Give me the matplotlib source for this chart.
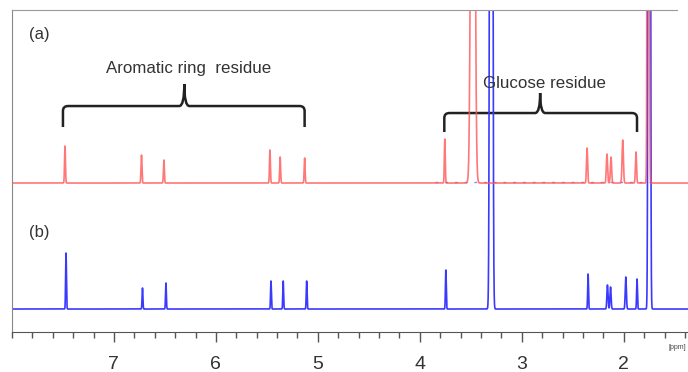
"""Spettro 1H-NMR: confronto tra (a) e (b) con residui evidenziati."""

import numpy as np
import matplotlib.pyplot as plt
from matplotlib.path import Path
from matplotlib.patches import PathPatch
from matplotlib.ticker import FixedLocator, MultipleLocator

plt.rcParams["font.family"] = ["Liberation Sans", "DejaVu Sans"]

# picchi spettro (a): posizione [ppm], altezza, sigma [ppm]
RED_SHIFTS = [7.48, 6.73, 6.51, 5.47, 5.37, 5.13, 3.755, 3.48,
              2.36, 2.165, 2.125, 2.01, 1.88, 1.76]
RED_HEIGHTS = [37, 28, 23, 33, 26, 25, 44, 1000,
               35, 29, 26, 43, 31, 3000]
RED_WIDTHS = [0.0045, 0.0045, 0.0045, 0.0045, 0.0045, 0.0045, 0.0045, 0.015,
              0.0055, 0.006, 0.006, 0.0065, 0.0055, 0.006]

# picchi spettro (b)
BLUE_SHIFTS = [7.47, 6.72, 6.49, 5.46, 5.34, 5.11, 3.745, 3.30,
               2.35, 2.16, 2.13, 1.98, 1.87, 1.75]
BLUE_HEIGHTS = [56, 21, 26, 28, 28, 28, 39, 3000,
                35, 24, 22, 32, 30, 3000]
BLUE_WIDTHS = [0.004, 0.004, 0.004, 0.004, 0.004, 0.004, 0.004, 0.009,
               0.004, 0.0055, 0.0055, 0.0055, 0.004, 0.007]

RED_OFFSET = 149
BLUE_OFFSET = 23

# parentesi: estremo sinistro, centro, estremo destro [ppm]
BRACKETS = [(7.50, 6.31, 5.13), (3.76, 2.82, 1.87)]
BRACKET_LABELS = ["Aromatic ring  residue", "Glucose residue"]

TICK_VALUES = [7, 6, 5, 4, 3, 2]


def spectrum(ppm, shifts, heights, widths):
    y = np.zeros_like(ppm)
    for x0, h, s in zip(shifts, heights, widths):
        y += h * np.exp(-0.5 * ((ppm - x0) / s) ** 2)
    return y


def bracket_path(xl, xc, xr, y_end, y_h, y_tip, dx=0.05, dy=5):
    verts = [
        (xl, y_end), (xl, y_h - dy),
        (xl, y_h), (xl - dx, y_h),
        (xc + dx, y_h),
        (xc, y_h), (xc, y_tip),
        (xc, y_h), (xc - dx, y_h),
        (xr + dx, y_h),
        (xr, y_h), (xr, y_h - dy),
        (xr, y_end),
    ]
    codes = [Path.MOVETO, Path.LINETO,
             Path.CURVE3, Path.CURVE3,
             Path.LINETO,
             Path.CURVE3, Path.CURVE3,
             Path.CURVE3, Path.CURVE3,
             Path.LINETO,
             Path.CURVE3, Path.CURVE3,
             Path.LINETO]
    return Path(verts, codes)


ppm = np.linspace(8.0, 1.37, 14000)
red = RED_OFFSET + spectrum(ppm, RED_SHIFTS, RED_HEIGHTS, RED_WIDTHS)
blue = BLUE_OFFSET + spectrum(ppm, BLUE_SHIFTS, BLUE_HEIGHTS, BLUE_WIDTHS)

fig = plt.figure(figsize=(6.88, 3.72), dpi=100)
ax = fig.add_axes([0.0174, 0.1075, 0.9826, 0.8655])

ax.plot(ppm, blue, color="#3a3aff", lw=1.2)
ax.plot([3.85, 1.70], [RED_OFFSET + 1, RED_OFFSET + 1], color="#5a5aff",
        lw=1.0, ls=(0, (2, 5)), alpha=0.7)
ax.plot(ppm, red, color="#ff5555", lw=1.2, alpha=0.8)

ax.set_xlim(8.0, 1.37)
ax.set_ylim(0, 322)

ax.xaxis.set_major_locator(FixedLocator(TICK_VALUES))
ax.xaxis.set_minor_locator(MultipleLocator(0.2))
ax.tick_params(axis="x", which="major", direction="out", length=7, width=1,
               color="#555555", labelsize=14, labelcolor="#333333", pad=10)
ax.tick_params(axis="x", which="minor", direction="out", length=4, width=1,
               color="#555555")
ax.set_yticks([])

ax.spines["right"].set_visible(False)
ax.spines["top"].set_color("#999999")
ax.spines["top"].set_bounds(8.0, 1.48)
ax.spines["left"].set_color("#888888")
ax.spines["bottom"].set_color("#555555")

# parentesi e etichette
bracket_y = [(205, 226, 248), (200, 219, 239)]
label_y = [264, 249]
label_x = [6.27, 2.78]
for (xl, xc, xr), (ye, yh, yt), lab, lx, ly in zip(BRACKETS, bracket_y,
                                                    BRACKET_LABELS, label_x, label_y):
    patch = PathPatch(bracket_path(xl, xc, xr, ye, yh, yt), facecolor="none",
                      edgecolor="#222222", lw=1.8, capstyle="butt")
    ax.add_patch(patch)
    ax.text(lx, ly, lab, ha="center", va="center", fontsize=12.2,
            color="#333333")

ax.text(0.025, 0.923, "(a)", transform=ax.transAxes, fontsize=12,
        color="#333333", va="center")
ax.text(0.025, 0.31, "(b)", transform=ax.transAxes, fontsize=12,
        color="#333333", va="center")
ax.text(1.385, -15, "[ppm]", fontsize=5, color="#444444", ha="right",
        va="center", clip_on=False)

fig.savefig("out.png", dpi=100)
